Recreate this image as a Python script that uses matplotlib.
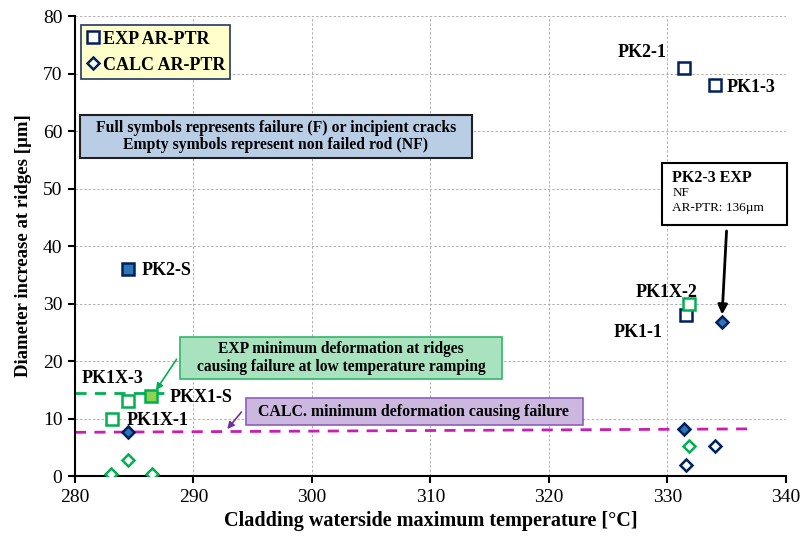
import matplotlib
matplotlib.use("Agg")
import matplotlib.pyplot as plt

plt.rcParams['font.family'] = ['Liberation Serif', 'DejaVu Serif']

# Experimental AR-PTR (squares)
exp_nf_navy_x = [331.4, 334.0, 331.6]
exp_nf_navy_y = [71.0, 68.0, 28.0]
exp_nf_green_x = [331.8, 284.5, 283.1]
exp_nf_green_y = [30.0, 13.0, 10.0]
exp_f_blue_x = [284.5]
exp_f_blue_y = [36.0]
exp_f_green_x = [286.4]
exp_f_green_y = [14.0]

# Calculated AR-PTR (diamonds)
calc_f_blue_x = [334.6, 284.5, 331.4]
calc_f_blue_y = [26.8, 7.7, 8.1]
calc_nf_green_x = [284.5, 283.0, 286.5, 331.8]
calc_nf_green_y = [2.8, 0.3, 0.3, 5.2]
calc_nf_navy_x = [334.0, 331.6]
calc_nf_navy_y = [5.2, 1.9]

# Threshold lines
exp_min_x = [280.0, 288.0]
exp_min_y = [14.5, 14.5]
calc_min_x = [280.0, 337.1]
calc_min_y = [7.6, 8.2]

point_labels = [
    ("PK2-1", 329.9, 73.6, 'right'),
    ("PK1-3", 335.0, 67.6, 'left'),
    ("PK2-S", 285.6, 35.8, 'left'),
    ("PK1X-2", 332.5, 32.0, 'right'),
    ("PK1-1", 329.6, 24.9, 'right'),
    ("PK1X-3", 280.6, 16.9, 'left'),
    ("PKX1-S", 288.0, 13.6, 'left'),
    ("PK1X-1", 284.4, 9.6, 'left'),
]

navy = '#002060'
blue = '#2E75B6'
green = '#00B050'
lightgreen = '#92D050'
magenta = '#C81EB4'

fig = plt.figure(figsize=(8.01, 5.38), dpi=100)
ax = fig.add_axes([0.0936, 0.1152, 0.8876, 0.8550])

ax.set_xlim(280, 340)
ax.set_ylim(0, 80)
ax.set_xticks(range(280, 341, 10))
ax.set_yticks(range(0, 81, 10))
ax.grid(True, linestyle=(0, (2.5, 2)), color='#B0B0B0', linewidth=0.7)
ax.set_axisbelow(True)
for s in ['top', 'right']:
    ax.spines[s].set_visible(False)
for s in ['left', 'bottom']:
    ax.spines[s].set_linewidth(1.5)
ax.tick_params(direction='out', length=5, width=1.5, labelsize=14, pad=4)

ax.plot(exp_min_x, exp_min_y, linestyle=(0, (4, 3)), color=green, lw=2, zorder=2)
ax.plot(calc_min_x, calc_min_y, linestyle=(0, (4, 3)), color=magenta, lw=2, zorder=2)

sq = dict(marker='s', markersize=9, markeredgewidth=1.8, linestyle='none', zorder=4)
dm = dict(marker='D', markersize=6.5, markeredgewidth=1.8, linestyle='none', zorder=4)

ax.plot(exp_nf_navy_x, exp_nf_navy_y, markerfacecolor='white', markeredgecolor=navy, **sq)
ax.plot(exp_nf_green_x, exp_nf_green_y, markerfacecolor='white', markeredgecolor=green, **sq)
ax.plot(exp_f_blue_x, exp_f_blue_y, markerfacecolor=blue, markeredgecolor=navy, **sq)
ax.plot(exp_f_green_x, exp_f_green_y, markerfacecolor=lightgreen, markeredgecolor=green, **sq)

ax.plot(calc_f_blue_x, calc_f_blue_y, markerfacecolor=blue, markeredgecolor=navy, **dm)
ax.plot(calc_nf_green_x, calc_nf_green_y, markerfacecolor='white', markeredgecolor=green, **dm)
ax.plot(calc_nf_navy_x, calc_nf_navy_y, markerfacecolor='white', markeredgecolor=navy, **dm)

for txt, x, y, ha in point_labels:
    ax.text(x, y, txt, ha=ha, va='center', fontsize=13, fontweight='bold', zorder=5)

ax.set_xlabel('Cladding waterside maximum temperature [°C]', fontsize=14.5, fontweight='bold',
              labelpad=4)
ax.set_ylabel('Diameter increase at ridges [µm]', fontsize=13.5, fontweight='bold', labelpad=8)

# Legend box
leg_handles = [
    plt.Line2D([], [], marker='s', markersize=9, markerfacecolor='white', markeredgecolor=navy,
               markeredgewidth=1.8, linestyle='none'),
    plt.Line2D([], [], marker='D', markersize=6.5, markerfacecolor='white', markeredgecolor=navy,
               markeredgewidth=1.8, linestyle='none'),
]
leg = ax.legend(leg_handles, ['EXP AR-PTR', 'CALC AR-PTR'], loc='upper left',
                bbox_to_anchor=(0.0084, 0.980), borderaxespad=0, frameon=True, fancybox=False,
                handlelength=0.7, handletextpad=0.2, borderpad=0.3, labelspacing=0.5,
                prop={'weight': 'bold', 'size': 13})
leg.get_frame().set_facecolor('#FFFFCC')
leg.get_frame().set_edgecolor('#1F3864')
leg.get_frame().set_linewidth(1.2)
leg.get_frame().set_alpha(1)


def box(x0, x1, y0, y1, face, edge, lw, z):
    ax.add_patch(plt.Rectangle((x0, y0), x1 - x0, y1 - y0, facecolor=face, edgecolor=edge,
                               lw=lw, zorder=z, clip_on=False))


# Failure symbol explanation
box(280.4, 313.5, 55.3, 62.8, '#B9CDE5', '#202020', 1.5, 6)
ax.text(296.95, 59.05, 'Full symbols represents failure (F) or incipient cracks\n'
        'Empty symbols represent non failed rod (NF)',
        ha='center', va='center', fontsize=11.3, fontweight='bold', linespacing=1.15, zorder=7)

# PK2-3 callout
box(329.5, 340.1, 43.65, 54.4, 'white', 'black', 1.5, 6)
ax.text(330.4, 51.8, 'PK2-3 EXP', ha='left', va='center', fontsize=11.5, fontweight='bold', zorder=7)
ax.text(330.4, 49.2, 'NF', ha='left', va='center', fontsize=9.5, zorder=7)
ax.text(330.4, 46.6, 'AR-PTR: 136µm', ha='left', va='center', fontsize=9.5, zorder=7)
ax.annotate('', xy=(334.6, 27.6), xytext=(335.0, 43.1),
            arrowprops=dict(arrowstyle='-|>', color='black', lw=2, mutation_scale=14), zorder=7)

# Experimental failure threshold callout
box(288.9, 316.0, 16.9, 24.2, '#A8E2BE', '#33B56A', 1.2, 6)
ax.text(302.45, 20.5, 'EXP minimum deformation at ridges\ncausing failure at low temperature ramping',
        ha='center', va='center', fontsize=11.2, fontweight='bold', linespacing=1.2, zorder=7)
ax.annotate('', xy=(286.7, 14.5), xytext=(288.7, 20.7),
            arrowprops=dict(arrowstyle='-|>', color=green, lw=1.2, mutation_scale=10), zorder=7)

# Calculated failure threshold callout
box(294.4, 322.9, 8.9, 13.6, '#CCB8DE', '#8E5DB8', 1.2, 6)
ax.text(308.6, 11.15, 'CALC. minimum deformation causing failure',
        ha='center', va='center', fontsize=11.4, fontweight='bold', zorder=7)
ax.annotate('', xy=(292.7, 7.8), xytext=(294.2, 11.5),
            arrowprops=dict(arrowstyle='-|>', color='#7030A0', lw=1.2, mutation_scale=10), zorder=7)

fig.savefig('out.png', dpi=100)
